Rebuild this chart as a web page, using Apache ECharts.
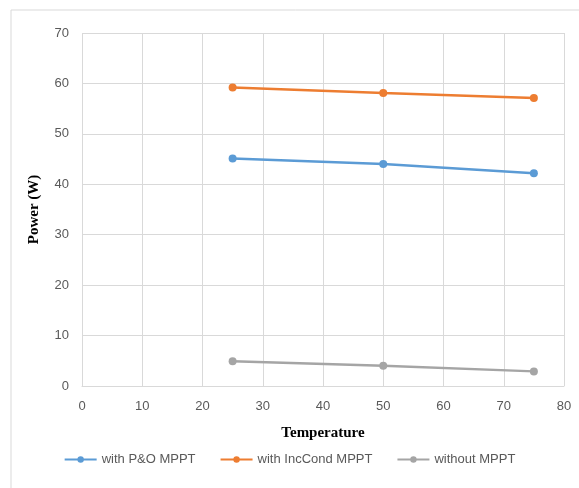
<!DOCTYPE html>
<html><head><meta charset="utf-8">
<script src="https://cdn.jsdelivr.net/npm/echarts@6/dist/echarts.min.js"></script>
<style>html,body{margin:0;padding:0;background:#fff}#c{width:579px;height:488px}</style>
</head><body><div id="c"></div>
<script>
const temps = [25, 50, 75];
const poMPPT = [45.1, 44.0, 42.2];
const incCondMPPT = [59.2, 58.1, 57.1];
const withoutMPPT = [4.9, 4.0, 2.9];
const seriesNames = ['with P&O MPPT', 'with IncCond MPPT', 'without MPPT'];
const colors = ['#5B9BD5', '#ED7D31', '#A5A5A5'];
const xTitle = 'Temperature';
const yTitle = 'Power (W)';

const chart = echarts.init(document.getElementById('c'), null, {renderer: 'canvas'});
const mk = (name, vals, color) => ({
  name, type: 'line', data: temps.map((t, i) => [t, vals[i]]),
  symbol: 'circle', symbolSize: 8, color,
  lineStyle: {width: 2.5, color}, itemStyle: {color}
});
chart.setOption({
  animation: false,
  graphic: [{type: 'rect', shape: {x: 11, y: 10, width: 700, height: 700}, style: {fill: 'none', stroke: '#d9d9d9', lineWidth: 1}, silent: true}],
  grid: {left: 82, right: 15, top: 33, bottom: 102, containLabel: false},
  xAxis: {
    type: 'value', min: 0, max: 80, interval: 10,
    name: xTitle, nameLocation: 'middle', nameGap: 40,
    nameTextStyle: {fontFamily: 'Liberation Serif', fontWeight: 'bold', fontSize: 15, color: '#000'},
    axisLine: {show: true, lineStyle: {color: '#d9d9d9'}}, axisTick: {show: false},
    axisLabel: {color: '#595959', fontSize: 13, fontFamily: 'Liberation Sans Narrow, Liberation Sans', margin: 14},
    splitLine: {lineStyle: {color: '#d9d9d9'}}
  },
  yAxis: {
    type: 'value', min: 0, max: 70, interval: 10,
    name: yTitle, nameLocation: 'middle', nameGap: 40, nameRotate: 90,
    nameTextStyle: {fontFamily: 'Liberation Serif', fontWeight: 'bold', fontSize: 15, color: '#000'},
    axisLine: {show: false}, axisTick: {show: false},
    axisLabel: {color: '#595959', fontSize: 13, fontFamily: 'Liberation Sans Narrow, Liberation Sans', margin: 13},
    splitLine: {lineStyle: {color: '#d9d9d9'}}
  },
  legend: {
    bottom: 17, left: 'center', itemGap: 24, itemWidth: 32, itemHeight: 8,
    textStyle: {color: '#595959', fontSize: 13, fontFamily: 'Liberation Sans Narrow, Liberation Sans'},
    data: seriesNames
  },
  series: [mk(seriesNames[0], poMPPT, colors[0]), mk(seriesNames[1], incCondMPPT, colors[1]), mk(seriesNames[2], withoutMPPT, colors[2])]
});
</script></body></html>
